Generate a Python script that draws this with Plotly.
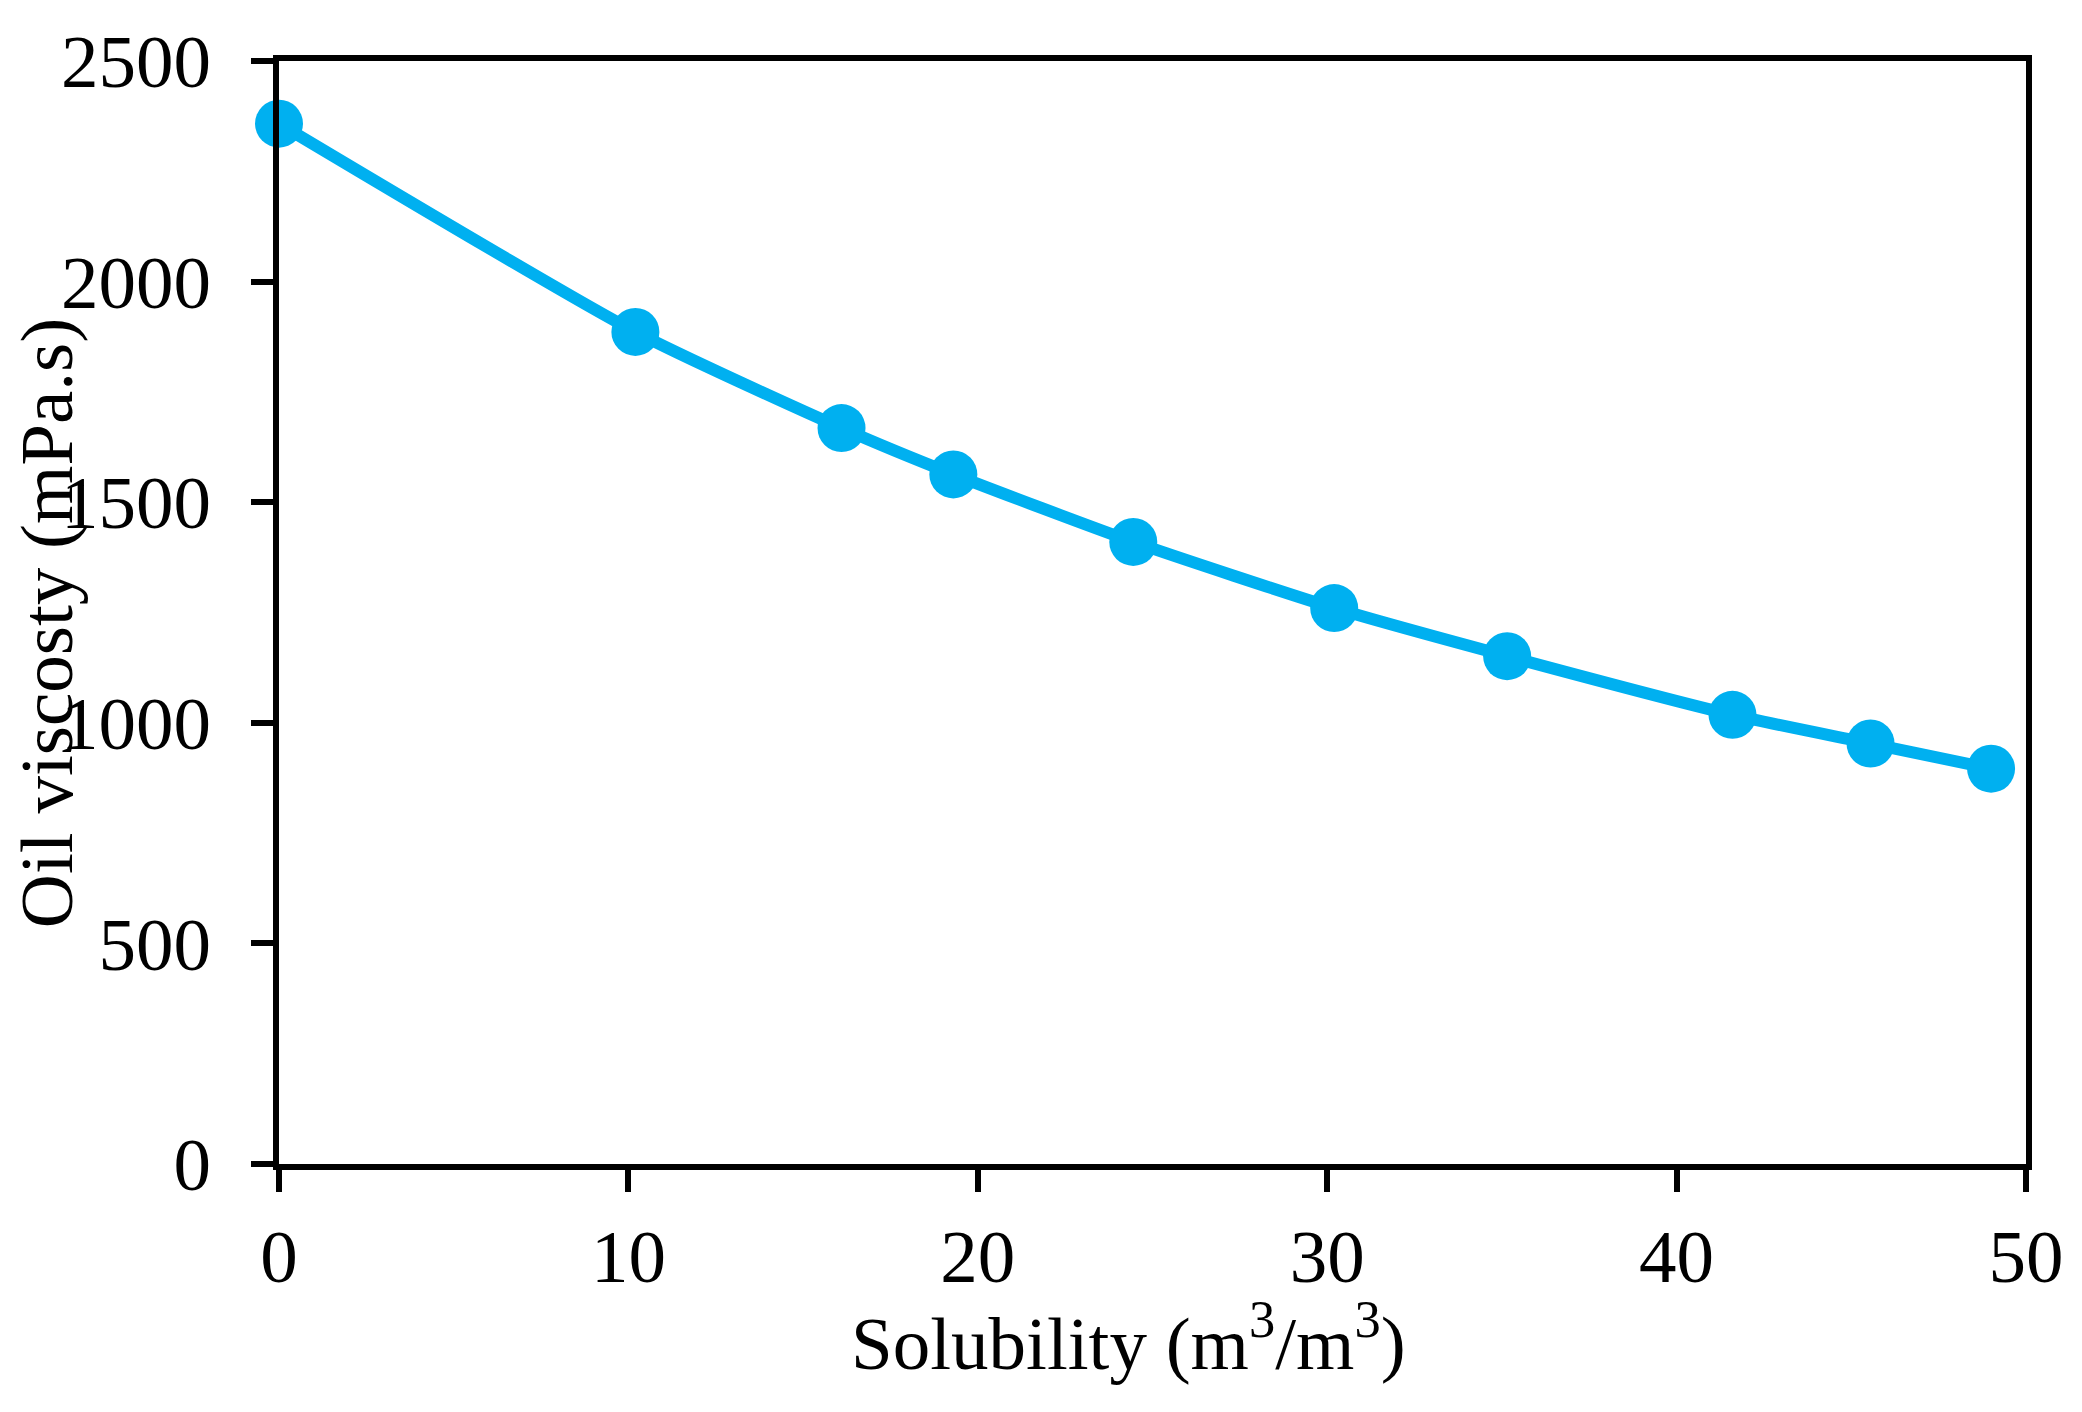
import plotly.graph_objects as go

solubility = [0.0, 10.2, 16.1, 19.3, 24.45, 30.2, 35.15, 41.6, 45.55, 49.0]
viscosity = [2358, 1886, 1668, 1563, 1410, 1260, 1151, 1018, 953, 896]

x_ticks = [0, 10, 20, 30, 40, 50]
y_ticks = [0, 500, 1000, 1500, 2000, 2500]

FONT = "Liberation Serif"
BLUE = "#00B0F0"

fig = go.Figure()
fig.add_trace(go.Scatter(
    x=solubility, y=viscosity, mode="lines+markers",
    line=dict(color=BLUE, width=12, shape="spline", smoothing=0.6),
    marker=dict(color=BLUE, size=48, line=dict(width=0)),
    showlegend=False, cliponaxis=False,
))

axis_common = dict(
    showline=True, linecolor="black", linewidth=6, mirror=True,
    ticks="outside", ticklen=22, tickwidth=6, tickcolor="black",
    showgrid=False, zeroline=False,
    tickfont=dict(family=FONT, size=75, color="black"),
)
fig.update_xaxes(range=[0, 50], tickvals=x_ticks, ticklabelstandoff=0, **axis_common)
fig.update_yaxes(range=[0, 2500], tickvals=y_ticks, ticklabelstandoff=25, **axis_common)

fig.add_annotation(
    text="Solubility (m<sup>3</sup>/m<sup>3</sup>)", xref="paper", yref="paper",
    x=0.486, y=-0.157, xanchor="center", yanchor="middle", showarrow=False,
    font=dict(family=FONT, size=75, color="black"),
)
fig.add_annotation(
    text="Oil viscosty (mPa.s)", xref="paper", yref="paper",
    x=-0.133, y=0.49, xanchor="center", yanchor="middle", showarrow=False,
    textangle=-90, font=dict(family=FONT, size=75, color="black"),
)

fig.update_layout(
    width=2082, height=1412,
    margin=dict(l=271, r=64, t=53, b=256),
    paper_bgcolor="white", plot_bgcolor="white",
)
fig.write_html("out.html")
